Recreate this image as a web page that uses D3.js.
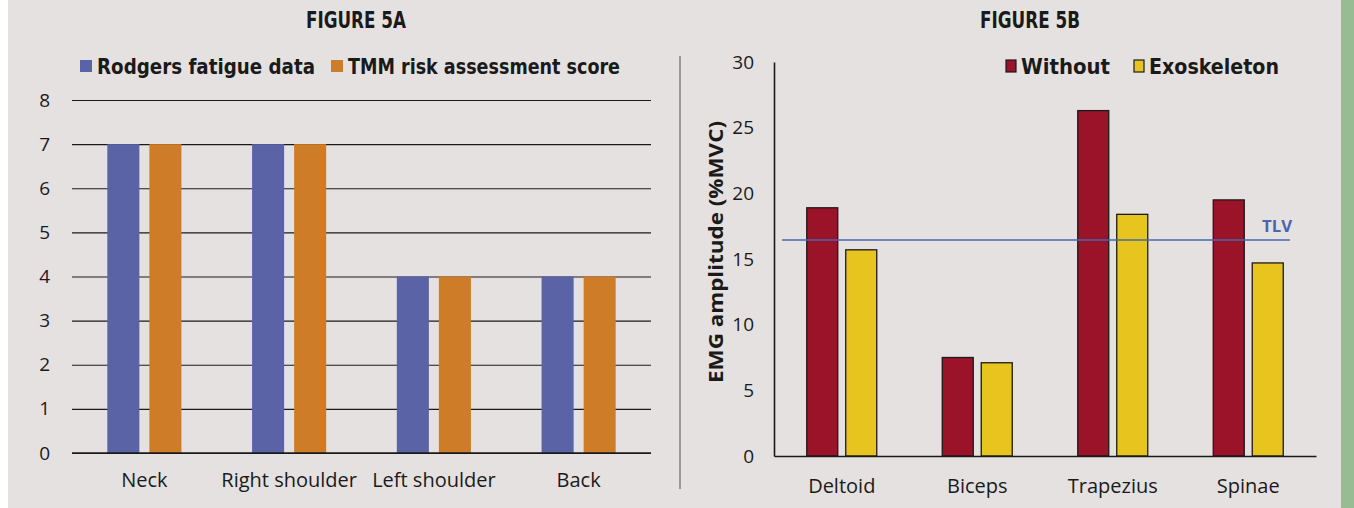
<!DOCTYPE html>
<html>
<head>
<meta charset="utf-8">
<script src="https://cdn.jsdelivr.net/npm/d3@7"></script>
<style>
  html, body { margin: 0; padding: 0; background: #ffffff; }
  svg { display: block; }
  .cond { font-family: "DejaVu Sans Condensed", "DejaVu Sans", sans-serif; font-weight: bold; font-stretch: condensed; }
  .tick text { font-family: "Open Sans", "Noto Sans", sans-serif; fill: #1a1a1a; }
</style>
</head>
<body>
<script>
  // data: figure 5A
  const partsA = ["Neck", "Right shoulder", "Left shoulder", "Back"];
  const rodgers = [7, 7, 4, 4];
  const tmm = [7, 7, 4, 4];
  const seriesA = ["Rodgers fatigue data", "TMM risk assessment score"];
  const ticksA = [0, 1, 2, 3, 4, 5, 6, 7, 8];

  // data: figure 5B
  const musclesB = ["Deltoid", "Biceps", "Trapezius", "Spinae"];
  const without = [18.9, 7.5, 26.3, 19.5];
  const exo = [15.7, 7.1, 18.4, 14.7];
  const seriesB = ["Without", "Exoskeleton"];
  const ticksB = [0, 5, 10, 15, 20, 25, 30];
  const tlv = 16.45;

  const w = 1354, h = 508;
  const svg = d3.select("body").append("svg").attr("width", w).attr("height", h);

  // background panel + green strip
  svg.append("rect").attr("x", 8).attr("y", 0).attr("width", 1333).attr("height", h).attr("fill", "#e5e1e0");
  svg.append("rect").attr("x", 1341).attr("y", 0).attr("width", 13).attr("height", h).attr("fill", "#97bb93");
  // divider
  svg.append("line").attr("x1", 680).attr("x2", 680).attr("y1", 56).attr("y2", 489)
    .attr("stroke", "#808080").attr("stroke-width", 1.5);

  // condensed bold text helper (width fitted)
  function condText(x, y, txt, size, len, anchor) {
    return svg.append("text").attr("class", "cond").attr("x", x).attr("y", y)
      .attr("text-anchor", anchor || "start").attr("font-size", size).attr("fill", "#1a1a1a")
      .attr("textLength", len).attr("lengthAdjust", "spacingAndGlyphs").text(txt);
  }

  // ---------- FIGURE 5A ----------
  condText(356, 28, "FIGURE 5A", 23, 100, "middle");

  const colorsA = ["#5963a6", "#cf7c28"];
  const xA = d3.scaleBand().domain(partsA).range([72, 651]);
  const xA2 = d3.scaleBand().domain([0, 1]).range([0, xA.bandwidth()]).paddingInner(0.238).paddingOuter(0.84);
  const yA = d3.scaleLinear().domain([0, 8]).range([453, 100]);

  // gridlines / y axis
  const gA = svg.append("g").attr("transform", "translate(72,0)")
    .call(d3.axisLeft(yA).tickValues(ticksA).tickSize(-579).tickPadding(22));
  gA.select(".domain").remove();
  gA.selectAll(".tick line").attr("stroke", "#1a1a1a").attr("stroke-width", 1.2);
  gA.selectAll(".tick text").attr("font-size", 19);

  const dataA = partsA.map((p, i) => ({ p, v: [rodgers[i], tmm[i]] }));
  svg.append("g").selectAll("g").data(dataA).join("g")
    .attr("transform", (d) => `translate(${xA(d.p)},0)`)
    .selectAll("rect").data((d) => d.v).join("rect")
    .attr("x", (d, i) => xA2(i))
    .attr("width", xA2.bandwidth())
    .attr("y", (d) => yA(d))
    .attr("height", (d) => yA(0) - yA(d))
    .attr("fill", (d, i) => colorsA[i]);

  // redraw zero line on top
  svg.append("line").attr("x1", 72).attr("x2", 651).attr("y1", yA(0)).attr("y2", yA(0))
    .attr("stroke", "#1a1a1a").attr("stroke-width", 1.4);

  const xAxA = svg.append("g").attr("transform", `translate(0,${yA(0)})`)
    .call(d3.axisBottom(xA).tickSize(0).tickPadding(20));
  xAxA.select(".domain").remove();
  xAxA.selectAll(".tick text").attr("font-size", 20);

  // legend A
  const legAx = [80, 331];
  const legAlen = [218, 272];
  seriesA.forEach((s, i) => {
    svg.append("rect").attr("x", legAx[i]).attr("y", 60).attr("width", 12).attr("height", 12).attr("fill", colorsA[i]);
    condText(legAx[i] + 17, 74, s, 22, legAlen[i]);
  });

  // ---------- FIGURE 5B ----------
  condText(1030, 28, "FIGURE 5B", 23, 100, "middle");

  const colorsB = ["#9b1329", "#e8c51e"];
  const xB = d3.scaleBand().domain(musclesB).range([774, 1316]);
  const xB2 = d3.scaleBand().domain([0, 1]).range([0, xB.bandwidth()]).paddingInner(0.205).paddingOuter(0.84);
  const yB = d3.scaleLinear().domain([0, 30]).range([456, 62]);

  const dataB = musclesB.map((m, i) => ({ m, v: [without[i], exo[i]] }));
  svg.append("g").selectAll("g").data(dataB).join("g")
    .attr("transform", (d) => `translate(${xB(d.m)},0)`)
    .selectAll("rect").data((d) => d.v).join("rect")
    .attr("x", (d, i) => xB2(i))
    .attr("width", xB2.bandwidth())
    .attr("y", (d) => yB(d))
    .attr("height", (d) => yB(0) - yB(d))
    .attr("fill", (d, i) => colorsB[i])
    .attr("stroke", "#1a1a1a").attr("stroke-width", 1.3);

  const gB = svg.append("g").attr("transform", "translate(774,0)")
    .call(d3.axisLeft(yB).tickValues(ticksB).tickSize(0).tickPadding(20));
  gB.select(".domain").attr("stroke", "#1a1a1a").attr("stroke-width", 1.6);
  gB.selectAll(".tick text").attr("font-size", 19);

  const xAxB = svg.append("g").attr("transform", `translate(0,${yB(0)})`)
    .call(d3.axisBottom(xB).tickSize(0).tickPadding(23));
  xAxB.select(".domain").attr("stroke", "#1a1a1a").attr("stroke-width", 1.6);
  xAxB.selectAll(".tick text").attr("font-size", 20);

  // TLV line
  svg.append("line").attr("x1", 782).attr("x2", 1290).attr("y1", yB(tlv)).attr("y2", yB(tlv))
    .attr("stroke", "#4a66b0").attr("stroke-width", 1.6);
  svg.append("text").attr("x", 1292).attr("y", yB(tlv) - 8).attr("text-anchor", "end")
    .attr("font-family", "'Open Sans', 'Noto Sans', sans-serif").attr("font-weight", "bold")
    .attr("font-size", 16).attr("textLength", 30).attr("lengthAdjust", "spacingAndGlyphs")
    .attr("fill", "#4a66b0").text("TLV");

  // y axis title
  svg.append("text").attr("transform", "translate(723,252) rotate(-90)")
    .attr("text-anchor", "middle").attr("font-family", "'Open Sans', 'Noto Sans', sans-serif")
    .attr("font-weight", "bold").attr("font-size", 19).attr("fill", "#1a1a1a")
    .attr("textLength", 262).attr("lengthAdjust", "spacingAndGlyphs")
    .text("EMG amplitude (%MVC)");

  // legend B
  const legBx = [1006, 1134];
  const legBlen = [89, 130];
  seriesB.forEach((s, i) => {
    svg.append("rect").attr("x", legBx[i]).attr("y", 60).attr("width", 10).attr("height", 12)
      .attr("fill", colorsB[i]).attr("stroke", "#1a1a1a").attr("stroke-width", 1.2);
    condText(legBx[i] + 15, 74, s, 22, legBlen[i]);
  });
</script>
</body>
</html>
